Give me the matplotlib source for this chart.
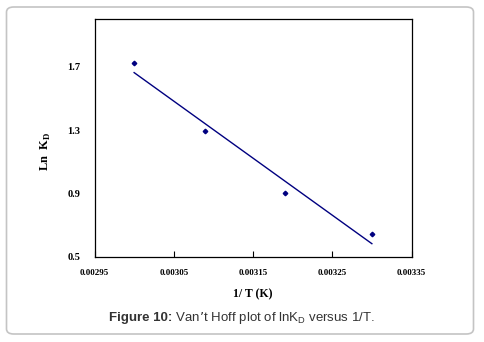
import numpy as np
import matplotlib.pyplot as plt
from matplotlib.patches import FancyBboxPatch

# data
inv_T = [0.003000, 0.003090, 0.003190, 0.003300]
ln_kd = [1.722, 1.294, 0.904, 0.643]
x_ticks = [0.00295, 0.00305, 0.00315, 0.00325, 0.00335]
y_ticks = [0.5, 0.9, 1.3, 1.7]

fig = plt.figure(figsize=(4.84, 3.42), dpi=100)

# rounded grey frame around the whole figure
frame = FancyBboxPatch((6.5 / 484, 8 / 342), 467 / 484, 327 / 342,
                       boxstyle="round,pad=0,rounding_size=0.015",
                       transform=fig.transFigure, facecolor="none",
                       edgecolor="#c4c4c4", linewidth=1.2, zorder=0)
fig.patches.append(frame)

ax = fig.add_axes([94.5 / 484, 1 - 256.7 / 342, 317 / 484, 237.4 / 342])

# trend line (least squares)
k, b = np.polyfit(inv_T, ln_kd, 1)
xs = np.array([inv_T[0], inv_T[-1]])
ax.plot(xs, k * xs + b, color="#000080", linewidth=1.0)
ax.plot(inv_T, ln_kd, linestyle="none", marker="D", markersize=2.3,
        color="#000080")

ax.set_xlim(0.00295, 0.00335)
ax.set_ylim(0.5, 2.0)
ax.set_xticks(x_ticks)
ax.set_xticklabels(["%.5f" % v for v in x_ticks])
ax.set_yticks(y_ticks)
ax.set_yticklabels(["%.1f" % v for v in y_ticks])

serif = ["Liberation Serif", "DejaVu Serif"]
for lab in ax.get_xticklabels():
    lab.set_family(serif)
    lab.set_fontweight("bold")
    lab.set_fontsize(6.5)
for lab in ax.get_yticklabels():
    lab.set_family(serif)
    lab.set_fontweight("bold")
    lab.set_fontsize(7.5)

ax.tick_params(axis="x", direction="in", length=4, width=0.8, pad=9)
ax.tick_params(axis="y", length=0, pad=10)
for s in ax.spines.values():
    s.set_linewidth(0.9)

ax.set_xlabel("1/ T (K)", family=serif, fontweight="bold", fontsize=8.5,
              labelpad=8)
ax.set_ylabel(r"Ln  K$_\mathregular{D}$", family=serif, fontweight="bold",
              fontsize=9)
ax.yaxis.set_label_coords(-0.13, 0.445)

# caption: bold part + regular part, placed side by side
cap_y = 1 - 318 / 342
cap_kw = dict(va="center", fontsize=9.5, family="Liberation Sans",
              color="#333333")
t1 = fig.text(0, cap_y, "Figure 10:", fontweight="bold", **cap_kw)
t2 = fig.text(0, cap_y, r" Van’t Hoff plot of lnK$_\mathregular{D}$ versus 1/T.",
              **cap_kw)
r = fig.canvas.get_renderer()
w1 = t1.get_window_extent(r).width
w2 = t2.get_window_extent(r).width
x0 = (fig.bbox.width - w1 - w2) / 2
t1.set_x(x0 / fig.bbox.width)
t2.set_x((x0 + w1) / fig.bbox.width)

fig.savefig("out.png", dpi=100)
